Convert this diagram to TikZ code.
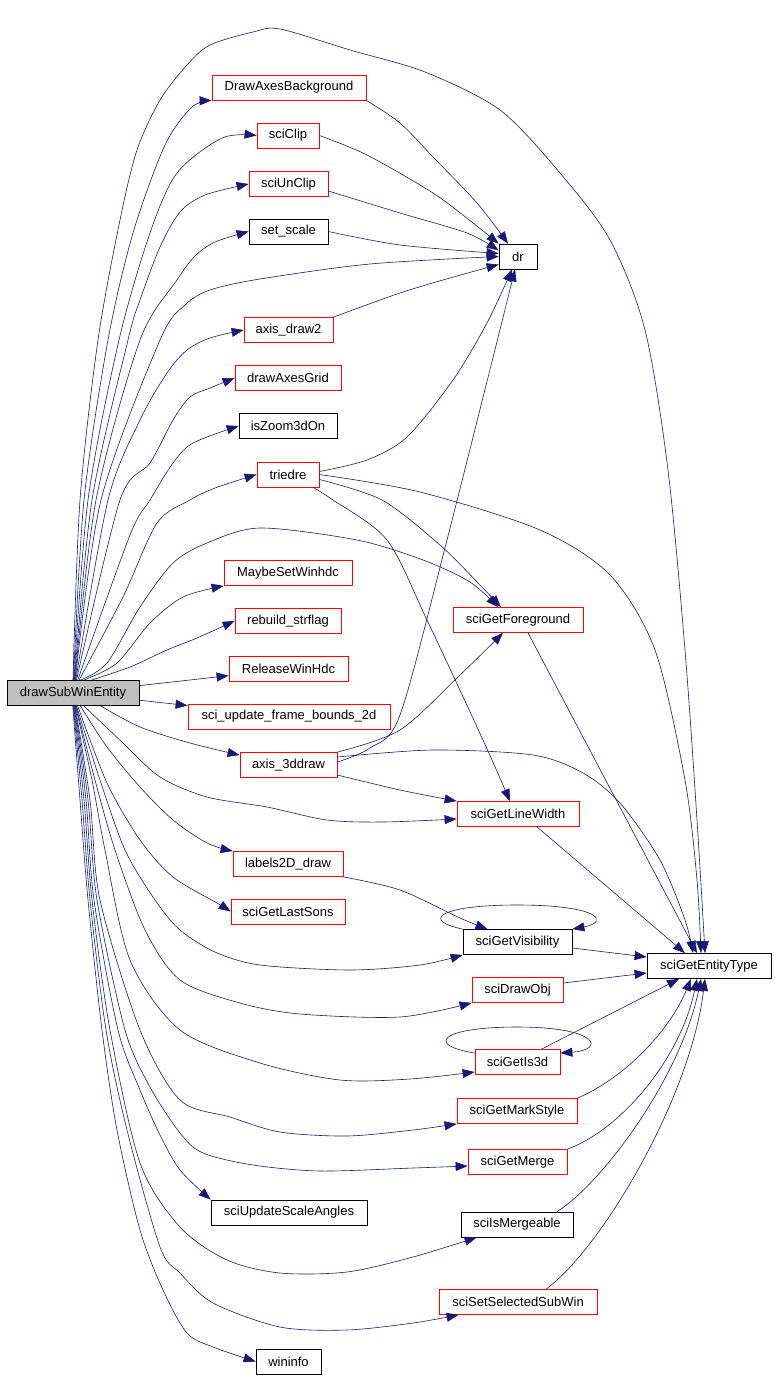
\documentclass[tikz,border=0pt]{standalone}
\usepackage{fontspec}
\setmainfont{Liberation Sans}
\usetikzlibrary{arrows.meta}
\definecolor{midnight}{HTML}{191970}
\definecolor{fnred}{HTML}{FF0000}
\definecolor{rootgrey}{HTML}{BFBFBF}

\begin{document}
\begin{tikzpicture}[x=1pt, y=-1pt,
    >={Triangle[length=12pt,width=9pt]},
    fn/.style={draw=fnred, line width=0.8pt, rectangle, minimum height=25pt, inner sep=0pt, font=\fontsize{13}{15}\selectfont},
    fnb/.style={fn, draw=black},
    link/.style={->, draw=midnight, line width=0.6pt}]
    \useasboundingbox (0,0) rectangle (775,1378);

    % caller
    \node[fnb, fill=rootgrey, minimum width=132pt] (root) at (73,693) {drawSubWinEntity};

    % second column
    \node[fn, minimum width=154pt] (bg) at (289,87.5) {DrawAxesBackground};
    \node[fn, minimum width=62pt] (clip) at (288,135.5) {sciClip};
    \node[fn, minimum width=79pt] (unclip) at (288.5,184) {sciUnClip};
    \node[fnb, minimum width=79pt] (setscale) at (288.5,231.5) {set\_scale};
    \node[fn, minimum width=89pt] (axisdraw2) at (288.5,330) {axis\_draw2};
    \node[fn, minimum width=106pt] (grid) at (288,378) {drawAxesGrid};
    \node[fnb, minimum width=98pt] (zoom3d) at (288,426) {isZoom3dOn};
    \node[fn, minimum width=62pt] (triedre) at (288,474.5) {triedre};
    \node[fn, minimum width=128pt] (maybeset) at (288,573) {MaybeSetWinhdc};
    \node[fn, minimum width=106pt] (rebuild) at (288,621) {rebuild\_strflag};
    \node[fn, minimum width=119pt] (release) at (288.5,669) {ReleaseWinHdc};
    \node[fn, minimum width=202pt] (frame) at (289,716.5) {sci\_update\_frame\_bounds\_2d};
    \node[fn, minimum width=97pt] (axis3d) at (288.5,765) {axis\_3ddraw};
    \node[fn, minimum width=110pt] (labels) at (288,864) {labels2D\_draw};
    \node[fn, minimum width=114pt] (lastsons) at (288,911.5) {sciGetLastSons};
    \node[fnb, minimum width=156pt] (scaleangles) at (289,1212.5) {sciUpdateScaleAngles};
    \node[fnb, minimum width=65pt] (wininfo) at (288.5,1361.5) {wininfo};

    % third column
    \node[fnb, minimum width=38pt] (dr) at (518,256.5) {dr};
    \node[fn, minimum width=130pt] (fg) at (518,620) {sciGetForeground};
    \node[fn, minimum width=122pt] (linewidth) at (518,814) {sciGetLineWidth};
    \node[fnb, minimum width=109pt] (visib) at (517.5,942) {sciGetVisibility};
    \node[fn, minimum width=91pt] (drawobj) at (517.5,990) {sciDrawObj};
    \node[fn, minimum width=85pt] (is3d) at (517.5,1062) {sciGetIs3d};
    \node[fn, minimum width=120pt] (markstyle) at (517,1111) {sciGetMarkStyle};
    \node[fn, minimum width=99pt] (merge) at (517.5,1162) {sciGetMerge};
    \node[fnb, minimum width=112pt] (mergeable) at (517,1224.5) {sciIsMergeable};
    \node[fn, minimum width=158pt] (selsub) at (518,1302) {sciSetSelectedSubWin};

    % last column
    \node[fnb, minimum width=124pt] (etype) at (709,966) {sciGetEntityType};

    % calls going up
    \draw[link] plot[smooth, tension=0.5] coordinates {(root.90) (80,500) (98,340) (120,220) (137,150) (160,100) (187,65) (210,45) (253,32) (280,29) (350,50) (425,72) (500,110) (560,173) (610,240) (645,330) (668,470) (685,650) (697,820) ([xshift=-4pt]etype.north)};
    \draw[link] plot[smooth, tension=0.5] coordinates {(root.88) (84,500) (108,340) (133,233) (165,145) (192,107) (bg.south west)};
    \draw[link] plot[smooth, tension=0.5] coordinates {(root.86) (88,500) (119,340) (150,233) (177,173) (222,138) (clip.west)};
    \draw[link] plot[smooth, tension=0.5] coordinates {(root.84) (92,500) (128,340) (140,300) (160,247) (180,212) (205,195) (unclip.west)};
    \draw[link] plot[smooth, tension=0.5] coordinates {(root.82) (96,500) (140,340) (177,280) (195,256) (215,242) (setscale.west)};
    \draw[link] plot[smooth, tension=0.5] coordinates {(root.80) (101,500) (160,340) (185,305) (210,290) (260,279) (370,264) (dr.west)};
    \draw[link] plot[smooth, tension=0.5] coordinates {(root.78) (108,500) (140,420) (167,373) (187,350) (210,338) (axisdraw2.west)};
    \draw[link] plot[smooth, tension=0.5] coordinates {(root.75) (120,500) (150,463) (173,420) (190,397) (210,388) (grid.west)};
    \draw[link] plot[smooth, tension=0.5] coordinates {(root.70) (130,535) (150,500) (173,463) (193,443) (zoom3d.west)};
    \draw[link] plot[smooth, tension=0.5] coordinates {(root.65) (123,597) (157,523) (190,500) (215,488) (triedre.west)};
    \draw[link] plot[smooth, tension=0.5] coordinates {(root.60) (107,663) (140,607) (173,563) (207,543) (260,528) (357,540) (423,560) (470,582) ([xshift=-20pt]fg.north)};
    \draw[link] plot[smooth, tension=0.5] coordinates {(root.50) (117,663) (150,623) (183,597) (maybeset.south west)};
    \draw[link] plot[smooth, tension=0.5] coordinates {(root.35) (130,667) (167,650) (197,638) (rebuild.west)};
    \draw[link] (root) -- (release);
    \draw[link] (root) -- (frame);

    % calls going down
    \draw[link] plot[smooth, tension=0.5] coordinates {(root.-25) (140,727) (190,743) ([yshift=-3pt]axis3d.north west)};
    \draw[link] plot[smooth, tension=0.5] coordinates {(root.-50) (123,743) (160,777) (207,797) (267,807) (327,820) (383,822) ([yshift=-5pt]linewidth.west)};
    \draw[link] plot[smooth, tension=0.5] coordinates {(root.-60) (107,747) (140,787) (173,820) (207,843) (labels.north west)};
    \draw[link] plot[smooth, tension=0.5] coordinates {(root.-70) (107,783) (140,840) (173,877) (217,903) (lastsons.west)};
    \draw[link] plot[smooth, tension=0.5] coordinates {(root.-75) (100,780) (125,850) (155,900) (180,930) (215,952) (260,965) (350,970) (420,965) (visib.south west)};
    \draw[link] plot[smooth, tension=0.5] coordinates {(root.-77) (95,780) (115,850) (145,930) (180,980) (240,1003) (300,1014) (400,1017) (drawobj.south west)};
    \draw[link] plot[smooth, tension=0.5] coordinates {(root.-79) (92,780) (105,850) (130,960) (180,1030) (260,1063) (340,1080) (410,1079) ([yshift=-10pt]is3d.west)};
    \draw[link] plot[smooth, tension=0.5] coordinates {(root.-81) (90,800) (100,900) (140,1030) (180,1100) (230,1117) (280,1132) (347,1136) (413,1130) (markstyle.south west)};
    \draw[link] plot[smooth, tension=0.5] coordinates {(root.-83) (88,800) (97,900) (125,1030) (150,1087) (180,1133) (203,1153) (253,1165) (320,1171) (413,1168) ([yshift=-4pt]merge.west)};
    \draw[link] plot[smooth, tension=0.5] coordinates {(root.-85) (86,800) (94,900) (118,1030) (140,1090) (160,1135) (180,1170) (scaleangles.north west)};
    \draw[link] plot[smooth, tension=0.5] coordinates {(root.-87) (84,800) (92,900) (110,1030) (140,1163) (180,1227) (227,1260) (280,1273) (347,1272) (413,1257) ([xshift=16pt]mergeable.south west)};
    \draw[link] plot[smooth, tension=0.5] coordinates {(root.-89) (82,800) (90,900) (106,1030) (127,1130) (160,1247) (180,1273) (213,1303) (280,1327) (347,1330) (413,1323) ([xshift=20pt]selsub.south west)};
    \draw[link] plot[smooth, tension=0.5] coordinates {(root.-91) (80,800) (88,900) (102,1030) (117,1130) (140,1230) (163,1290) (187,1333) (213,1347) (wininfo.west)};

    % into dr
    \draw[link] plot[smooth, tension=0.5] coordinates {(bg.south east) (400,123) (433,157) (477,203) ([xshift=-10pt]dr.north)};
    \draw[link] plot[smooth, tension=0.5] coordinates {(clip.east) (367,155) (433,193) (473,223) (dr.north west)};
    \draw[link] plot[smooth, tension=0.5] coordinates {([yshift=-7pt]unclip.east) (400,213) (467,233) ([yshift=6pt]dr.west)};
    \draw[link] plot[smooth, tension=0.5] coordinates {(setscale.east) (400,245) ([yshift=3pt]dr.west)};
    \draw[link] plot[smooth, tension=0.5] coordinates {(axisdraw2.north east) (400,293) (450,278) ([yshift=-8pt]dr.west)};
    \draw[link] plot[smooth, tension=0.5] coordinates {([yshift=3pt]triedre.east) (367,460) (407,437) (453,380) (487,323) ([xshift=-6pt]dr.south)};
    \draw[link] plot[smooth, tension=0.5] coordinates {([yshift=3pt]axis3d.east) (370,748) (400,715) (447,540) ([xshift=-3pt]dr.south)};

    % triedre and axis_3ddraw
    \draw[link] plot[smooth, tension=0.5] coordinates {([yshift=-5pt]triedre.east) (382,500) (440,545) (480,585) ([xshift=-17pt]fg.north)};
    \draw[link] plot[smooth, tension=0.5] coordinates {(triedre.east) (420,492) (540,530) (610,575) (655,650) (685,780) (697,880) ([xshift=-8pt]etype.north)};
    \draw[link] plot[smooth, tension=0.5] coordinates {([xshift=25pt]triedre.south) (333,500) (387,540) (427,620) (483,740) ([xshift=-8pt]linewidth.north)};
    \draw[link] plot[smooth, tension=0.5] coordinates {(axis3d.north east) (400,730) (460,675) ([xshift=-15pt]fg.south)};
    \draw[link] plot[smooth, tension=0.5] coordinates {([yshift=8pt]axis3d.east) (433,750) (533,755) (583,773) (620,803) (660,860) (685,920) ([xshift=-16pt]etype.north)};
    \draw[link] plot[smooth, tension=0.5] coordinates {([yshift=-10pt]axis3d.east) (400,790) (linewidth.north west)};
    \draw[link] plot[smooth, tension=0.5] coordinates {(labels.south east) (400,890) (460,918) ([xshift=-30pt]visib.north)};

    % into sciGetEntityType
    \draw[link] ([xshift=10pt]fg.south) -- ([xshift=-12pt]etype.north);
    \draw[link] ([xshift=19pt]linewidth.south) -- ([xshift=-24pt]etype.north);
    \draw[link] ([yshift=-6pt]visib.east) -- ([yshift=9pt]etype.west);
    \draw[link] ([yshift=7pt]drawobj.east) -- ([yshift=-7pt]etype.west);
    \draw[link] ([xshift=24pt]is3d.north) -- ([xshift=-30pt]etype.south);
    \draw[link] (markstyle.north east) .. controls (625,1078) and (670,1030) .. ([xshift=-18pt]etype.south);
    \draw[link] (merge.north east) .. controls (620,1130) and (680,1060) .. ([xshift=-12pt]etype.south);
    \draw[link] ([xshift=40pt]mergeable.north) .. controls (600,1185) and (680,1080) .. ([xshift=-8pt]etype.south);
    \draw[link] ([xshift=28pt]selsub.north) .. controls (600,1250) and (690,1100) .. ([xshift=-4pt]etype.south);

    % recursive calls
    \draw[link] (visib.north west) .. controls (420,920) and (440,905) .. (517,905) .. controls (600,905) and (610,922) .. (visib.north east);
    \draw[link] ([yshift=9pt]is3d.west) .. controls (425,1045) and (440,1027) .. (517,1027) .. controls (600,1027) and (605,1050) .. ([yshift=9pt]is3d.east);
\end{tikzpicture}
\end{document}
